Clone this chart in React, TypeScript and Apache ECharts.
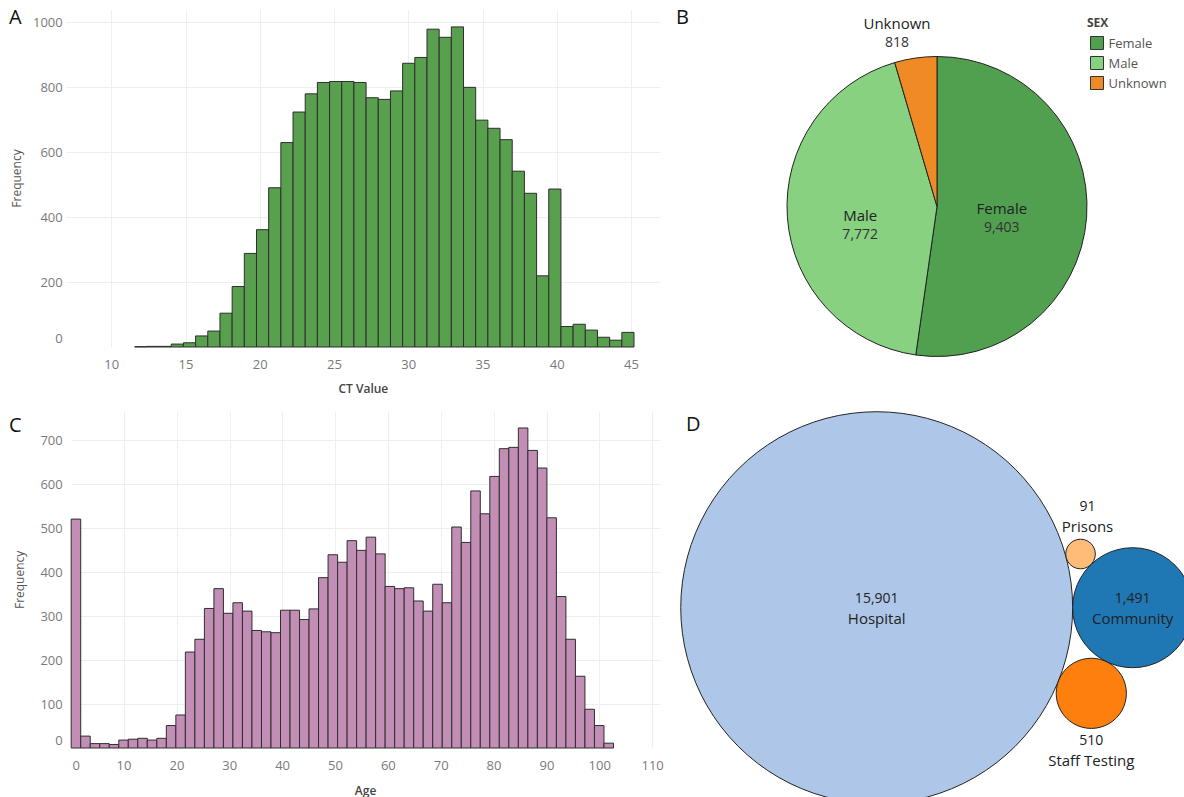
import { useEffect, useRef } from "react";
import * as echarts from "echarts";

// ---- Panel A: CT value histogram ----
const ctBinStart = 11.55;
const ctBinWidth = 0.82;
const ctCounts = [
  1, 2, 2, 9, 13, 34, 49, 104, 186, 288, 361, 490, 629, 723, 779, 814, 817, 817, 814, 767,
  762, 788, 873, 891, 978, 953, 985, 799, 698, 673, 638, 541, 473, 219, 486, 63, 70, 52, 30, 21, 45,
];

// ---- Panel C: age histogram ----
const ageBinStart = 0;
const ageBinWidth = 1.8;
const ageCounts = [
  520, 27, 10, 10, 8, 18, 20, 22, 18, 22, 51, 75, 218, 247, 317, 362, 306, 330, 311, 267,
  264, 262, 313, 313, 292, 316, 387, 439, 422, 471, 449, 479, 441, 367, 362, 364, 334, 311, 372, 330,
  502, 467, 584, 532, 617, 680, 683, 727, 676, 636, 523, 344, 247, 163, 88, 51, 11,
];

// ---- Panel B: sex ----
const sexLabels = ["Female", "Male", "Unknown"];
const sexCounts = [9403, 7772, 818];
const sexColors = ["#50a050", "#88d181", "#ef8a24"];

// ---- Panel D: setting ----
const settingLabels = ["Hospital", "Community", "Prisons", "Staff Testing"];
const settingCounts = [15901, 1491, 91, 510];
const settingColors = ["#aec7e8", "#1f77b4", "#ffbb78", "#ff7f0e"];

const FONT = "'Open Sans', 'Noto Sans', sans-serif";
const fmt = (v: number) => v.toLocaleString("en-US");

function toBins(start: number, width: number, counts: number[]) {
  return counts.map((c, i) => [start + i * width, start + (i + 1) * width, c]);
}

// Circle of radius r touching both a and b, on the given side of the line a->b
function tangentCircle(a: any, b: any, r: number, side: number) {
  const dx = b.x - a.x;
  const dy = b.y - a.y;
  const d = Math.hypot(dx, dy);
  const da = a.r + r;
  const db = b.r + r;
  const along = (da * da - db * db + d * d) / (2 * d);
  const h = Math.sqrt(Math.max(0, da * da - along * along));
  const ux = dx / d;
  const uy = dy / d;
  return { x: a.x + along * ux - side * h * uy, y: a.y + along * uy + side * h * ux, r };
}

const BUBBLE_SCALE = 1.554;
const bubbleRadius = (v: number) => BUBBLE_SCALE * Math.sqrt(v);

function packBubbles() {
  const rs = settingCounts.map(bubbleRadius);
  const big = { x: 0, y: 0, r: rs[0] };
  const second = { x: rs[0] + rs[1], y: 0, r: rs[1] };
  const third = tangentCircle(big, second, rs[2], -1);
  const fourth = tangentCircle(big, second, rs[3], 1);
  return [big, second, third, fourth];
}

function histRenderer(fill: string) {
  return (params: any, api: any) => {
    const x0 = api.value(0);
    const x1 = api.value(1);
    const y = api.value(2);
    const p0 = api.coord([x0, y]);
    const p1 = api.coord([x1, 0]);
    return {
      type: "rect",
      shape: { x: p0[0], y: p0[1], width: p1[0] - p0[0], height: p1[1] - p0[1] },
      style: { fill, stroke: "#2e2e2e", lineWidth: 1 },
    };
  };
}

const tickLabel = {
  color: "#7a7a7a",
  fontSize: 13,
  fontFamily: FONT,
};

function zeroShift(pad: number[]) {
  return {
    ...tickLabel,
    formatter: (v: number) => (v === 0 ? "{z|0}" : String(v)),
    rich: { z: { ...tickLabel, padding: pad } },
  };
}

const gridLine = { show: true, lineStyle: { color: "#efefef", width: 1 }, showMinLine: false, showMaxLine: false };

export default function App() {
  const ref = useRef<HTMLDivElement>(null);

  useEffect(() => {
    document.body.style.margin = "0";
    const chart = echarts.init(ref.current!, null, { renderer: "svg" });

    const bubbles = packBubbles();
    const anchor = [216.7, 207.7];
    const bubbleData = bubbles.map((b, i) => {
      const base: any = {
        name: settingLabels[i],
        value: [anchor[0] + b.x, anchor[1] + b.y, settingCounts[i]],
        symbolSize: 2 * b.r,
        itemStyle: { color: settingColors[i] },
      };
      if (i === 2) base.label = { position: "top", distance: 3, offset: [7, 0] };
      if (i === 3) base.label = { position: "bottom", distance: 1 };
      return base;
    });

    const option: any = {
      animation: false,
      backgroundColor: "#ffffff",
      textStyle: { fontFamily: FONT },
      grid: [
        { left: 66.7, top: 10, width: 593.3, height: 337 },
        { left: 71.2, top: 411.7, width: 588.8, height: 336.3 },
        { left: 660, top: 400, width: 524, height: 397 },
      ],
      xAxis: [
        {
          gridIndex: 0,
          type: "value",
          min: 6.97,
          max: 46.92,
          splitNumber: 8,
          minInterval: 5,
          maxInterval: 5,
          axisLine: { show: false },
          axisTick: { show: false },
          splitLine: gridLine,
          axisLabel: { ...tickLabel, margin: 10, showMinLabel: false, showMaxLabel: false },
          name: "CT Value",
          nameLocation: "middle",
          nameGap: 35,
          nameTextStyle: { color: "#444", fontSize: 12, fontWeight: 600, fontFamily: FONT },
        },
        {
          gridIndex: 1,
          type: "value",
          min: 0,
          max: 111.4,
          interval: 10,
          axisLine: { show: false },
          axisTick: { show: false },
          splitLine: gridLine,
          axisLabel: {
            ...tickLabel,
            margin: 10,
            showMaxLabel: false,
            formatter: (v: number) => (v === 0 ? "{z|0}" : String(v)),
            rich: { z: { ...tickLabel, padding: [0, 0, 0, 10] } },
          },
          name: "Age",
          nameLocation: "middle",
          nameGap: 36,
          nameTextStyle: { color: "#444", fontSize: 12, fontWeight: 600, fontFamily: FONT },
        },
        { gridIndex: 2, type: "value", min: 0, max: 524, show: false },
      ],
      yAxis: [
        {
          gridIndex: 0,
          type: "value",
          min: 0,
          max: 1037,
          interval: 200,
          axisLine: { show: false },
          axisTick: { show: false },
          splitLine: gridLine,
          axisLabel: { ...zeroShift([0, 0, 18, 0]), margin: 4, showMaxLabel: false },
          name: "Frequency",
          nameLocation: "middle",
          nameRotate: 90,
          nameGap: 42,
          nameTextStyle: { color: "#555", fontSize: 12, fontFamily: FONT },
        },
        {
          gridIndex: 1,
          type: "value",
          min: 0,
          max: 764,
          interval: 100,
          axisLine: { show: false },
          axisTick: { show: false },
          splitLine: gridLine,
          axisLabel: { ...zeroShift([0, 0, 17, 0]), margin: 8.5, showMaxLabel: false },
          name: "Frequency",
          nameLocation: "middle",
          nameRotate: 90,
          nameGap: 46,
          nameTextStyle: { color: "#555", fontSize: 12, fontFamily: FONT },
        },
        { gridIndex: 2, type: "value", min: 0, max: 397, inverse: true, show: false },
      ],
      legend: {
        data: sexLabels,
        orient: "vertical",
        left: 1090,
        top: 36,
        padding: 0,
        itemWidth: 13,
        itemHeight: 13,
        itemGap: 6,
        icon: "rect",
        itemStyle: { borderColor: "#333", borderWidth: 1 },
        textStyle: { color: "#555", fontSize: 13, fontFamily: FONT },
        selectedMode: false,
      },
      graphic: [
        { type: "text", left: 9, top: 6, style: { text: "A", fontSize: 20, fill: "#111", fontFamily: FONT } },
        { type: "text", left: 676, top: 6, style: { text: "B", fontSize: 20, fill: "#111", fontFamily: FONT } },
        { type: "text", left: 9, top: 414, style: { text: "C", fontSize: 20, fill: "#111", fontFamily: FONT } },
        { type: "text", left: 686, top: 413, style: { text: "D", fontSize: 20, fill: "#111", fontFamily: FONT } },
        {
          type: "text",
          left: 1087,
          top: 16,
          style: { text: "SEX", fontSize: 12, fontWeight: 700, fill: "#444", fontFamily: FONT },
        },
      ],
      series: [
        {
          type: "custom",
          xAxisIndex: 0,
          yAxisIndex: 0,
          renderItem: histRenderer("#58a04e"),
          encode: { x: [0, 1], y: 2 },
          data: toBins(ctBinStart, ctBinWidth, ctCounts),
        },
        {
          type: "custom",
          xAxisIndex: 1,
          yAxisIndex: 1,
          renderItem: histRenderer("#c38eb6"),
          encode: { x: [0, 1], y: 2 },
          data: toBins(ageBinStart, ageBinWidth, ageCounts),
        },
        {
          type: "pie",
          center: [937, 206.5],
          radius: 150,
          startAngle: 90,
          clockwise: true,
          avoidLabelOverlap: false,
          itemStyle: { borderColor: "#222", borderWidth: 1 },
          labelLine: { show: false },
          label: {
            position: "inside",
            formatter: (p: any) => `{n|${p.name}}\n{v|${fmt(p.value)}}`,
            rich: {
              n: { fontSize: 15, color: "#222", fontFamily: FONT, lineHeight: 19 },
              v: { fontSize: 14, color: "#333", fontFamily: FONT, lineHeight: 19 },
            },
          },
          labelLayout: (p: any) =>
            p.dataIndex === 2 ? { x: 897, y: 32, align: "center", verticalAlign: "middle" } : {},
          data: sexLabels.map((name, i) => {
            const d: any = { name, value: sexCounts[i], itemStyle: { color: sexColors[i] } };
            if (i === 0) d.label = { offset: [-13, 5] };
            if (i === 1) d.label = { offset: [1, 12] };
            if (i === 2) d.label = { position: "outside" };
            return d;
          }),
        },
        {
          type: "scatter",
          xAxisIndex: 2,
          yAxisIndex: 2,
          clip: false,
          symbol: "circle",
          itemStyle: { borderColor: "#222", borderWidth: 1, opacity: 1 },
          label: {
            show: true,
            position: "inside",
            formatter: (p: any) => `{v|${fmt(p.value[2])}}\n{n|${p.name}}`,
            rich: {
              v: { fontSize: 14, color: "#222", fontFamily: FONT, lineHeight: 20 },
              n: { fontSize: 15, color: "#222", fontFamily: FONT, lineHeight: 20 },
            },
          },
          emphasis: { disabled: true },
          data: bubbleData,
        },
      ],
    };

    chart.setOption(option);
    return () => chart.dispose();
  }, []);

  return <div ref={ref} style={{ width: 1184, height: 797 }} />;
}
